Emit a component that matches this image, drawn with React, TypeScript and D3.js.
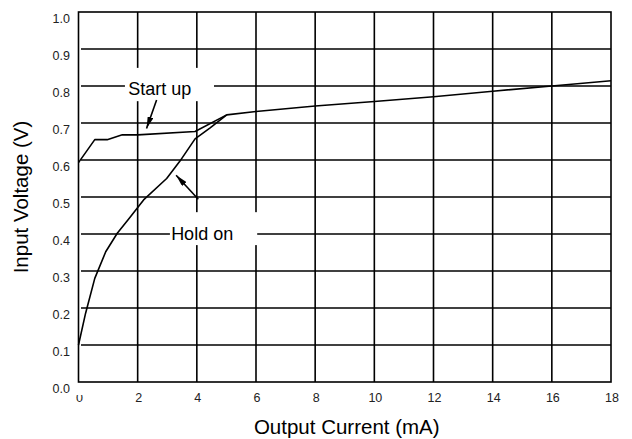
import React, { useEffect, useRef } from 'react';
import * as d3 from 'd3';

// Start up curve (mA, V)
const startCurrent = [0, 0.55, 0.97, 1.48, 2.0, 3.94, 5.01, 6, 8, 10, 12, 14, 16, 18];
const startVoltage = [0.593, 0.655, 0.655, 0.668, 0.668, 0.677, 0.722, 0.731, 0.746, 0.758, 0.771, 0.786, 0.8, 0.814];

// Hold on curve (mA, V)
const holdCurrent = [0, 0.24, 0.55, 0.92, 1.31, 1.71, 2.2, 2.98, 3.43, 3.94, 4.45, 5.01];
const holdVoltage = [0.1, 0.186, 0.28, 0.352, 0.402, 0.442, 0.492, 0.55, 0.597, 0.657, 0.687, 0.722];

const xTicks = [0, 2, 4, 6, 8, 10, 12, 14, 16, 18];
const yTicks = [0, 0.1, 0.2, 0.3, 0.4, 0.5, 0.6, 0.7, 0.8, 0.9, 1.0];

const xTitle = 'Output Current (mA)';
const yTitle = 'Input Voltage (V)';

// annotations, in data units
const startLabel = { text: 'Start up', x: 2.75, y: 0.776, box: [1.57, 4.58, 0.849, 0.759], from: [2.64, 0.762], to: [2.3, 0.685] };
const holdLabel = { text: 'Hold on', x: 4.18, y: 0.384, box: [3.09, 6.04, 0.459, 0.37], from: [4.05, 0.494], to: [3.3, 0.559] };

const FONT = '"Liberation Sans", Arial, sans-serif';

const App = () => {
  const svgRef = useRef<SVGSVGElement>(null);

  useEffect(() => {
    const svg = d3.select(svgRef.current);
    svg.selectAll('*').remove();

    const x = d3.scaleLinear().domain([0, 18]).range([78.5, 611]);
    const y = d3.scaleLinear().domain([0, 1]).range([382, 12]);

    const defs = svg.append('defs');
    defs.append('marker')
      .attr('id', 'arr')
      .attr('viewBox', '0 0 12 6')
      .attr('refX', 12)
      .attr('refY', 3)
      .attr('markerWidth', 12)
      .attr('markerHeight', 6)
      .attr('markerUnits', 'userSpaceOnUse')
      .attr('orient', 'auto')
      .append('path')
      .attr('d', 'M0,0 L12,3 L0,6 Z')
      .attr('fill', '#000');
    // the "0" under the origin is half hidden in the original
    defs.append('clipPath')
      .attr('id', 'zeroclip')
      .append('rect')
      .attr('x', 60).attr('y', 395).attr('width', 40).attr('height', 20);

    // grid + frame
    const grid = svg.append('g').attr('stroke', '#000').attr('stroke-width', 1.6);
    grid.selectAll('.h')
      .data(yTicks.slice(1, -1))
      .enter().append('line')
      .attr('x1', x(0) + 2.5).attr('x2', x(18))
      .attr('y1', d => y(d)).attr('y2', d => y(d));
    grid.selectAll('.v')
      .data(xTicks.slice(1, -1))
      .enter().append('line')
      .attr('x1', d => x(d)).attr('x2', d => x(d))
      .attr('y1', y(0)).attr('y2', y(1));
    grid.append('rect')
      .attr('x', x(0)).attr('y', y(1))
      .attr('width', x(18) - x(0)).attr('height', y(0) - y(1))
      .attr('fill', 'none');

    // white boxes behind the labels
    [startLabel, holdLabel].forEach(l => {
      svg.append('rect')
        .attr('x', x(l.box[0])).attr('y', y(l.box[2]))
        .attr('width', x(l.box[1]) - x(l.box[0]))
        .attr('height', y(l.box[3]) - y(l.box[2]))
        .attr('fill', '#fff');
    });

    const line = d3.line<[number, number]>()
      .x(d => x(d[0]))
      .y(d => y(d[1]));

    const drawCurve = (xs: number[], ys: number[]) => {
      svg.append('path')
        .datum(xs.map((v, i) => [v, ys[i]] as [number, number]))
        .attr('fill', 'none')
        .attr('stroke', '#000')
        .attr('stroke-width', 1.6)
        .attr('stroke-linejoin', 'round')
        .attr('d', line);
    };
    drawCurve(startCurrent, startVoltage);
    drawCurve(holdCurrent, holdVoltage);

    // labels and arrows
    [startLabel, holdLabel].forEach(l => {
      svg.append('text')
        .attr('x', x(l.x)).attr('y', y(l.y))
        .attr('text-anchor', 'middle')
        .attr('font-family', FONT)
        .attr('font-size', 18)
        .text(l.text);
      svg.append('line')
        .attr('x1', x(l.from[0])).attr('y1', y(l.from[1]))
        .attr('x2', x(l.to[0])).attr('y2', y(l.to[1]))
        .attr('stroke', '#000')
        .attr('stroke-width', 1.6)
        .attr('marker-end', 'url(#arr)');
    });

    // y tick labels
    svg.append('g')
      .selectAll('text')
      .data(yTicks)
      .enter().append('text')
      .attr('x', 70)
      .attr('y', d => y(d) + 10.5)
      .attr('text-anchor', 'end')
      .attr('font-family', FONT)
      .attr('font-size', 12.5)
      .attr('fill', '#222')
      .text(d => d3.format('.1f')(d));

    // x tick labels
    svg.append('g')
      .selectAll('text')
      .data(xTicks)
      .enter().append('text')
      .attr('x', d => x(d) + 1)
      .attr('y', y(0) + 20)
      .attr('text-anchor', 'middle')
      .attr('font-family', FONT)
      .attr('font-size', 12.5)
      .attr('fill', '#222')
      .attr('clip-path', d => (d === 0 ? 'url(#zeroclip)' : null))
      .text(d => String(d));

    // axis titles
    svg.append('text')
      .attr('x', (x(0) + x(18)) / 2 + 2)
      .attr('y', 434)
      .attr('text-anchor', 'middle')
      .attr('font-family', FONT)
      .attr('font-size', 20.5)
      .text(xTitle);
    svg.append('text')
      .attr('transform', `translate(28,${(y(0) + y(1)) / 2}) rotate(-90)`)
      .attr('text-anchor', 'middle')
      .attr('font-family', FONT)
      .attr('font-size', 20.5)
      .text(yTitle);
  }, []);

  return (
    <svg
      ref={svgRef}
      width={632}
      height={439}
      style={{ position: 'absolute', left: 0, top: 0, background: '#fff' }}
    />
  );
};

export default App;
